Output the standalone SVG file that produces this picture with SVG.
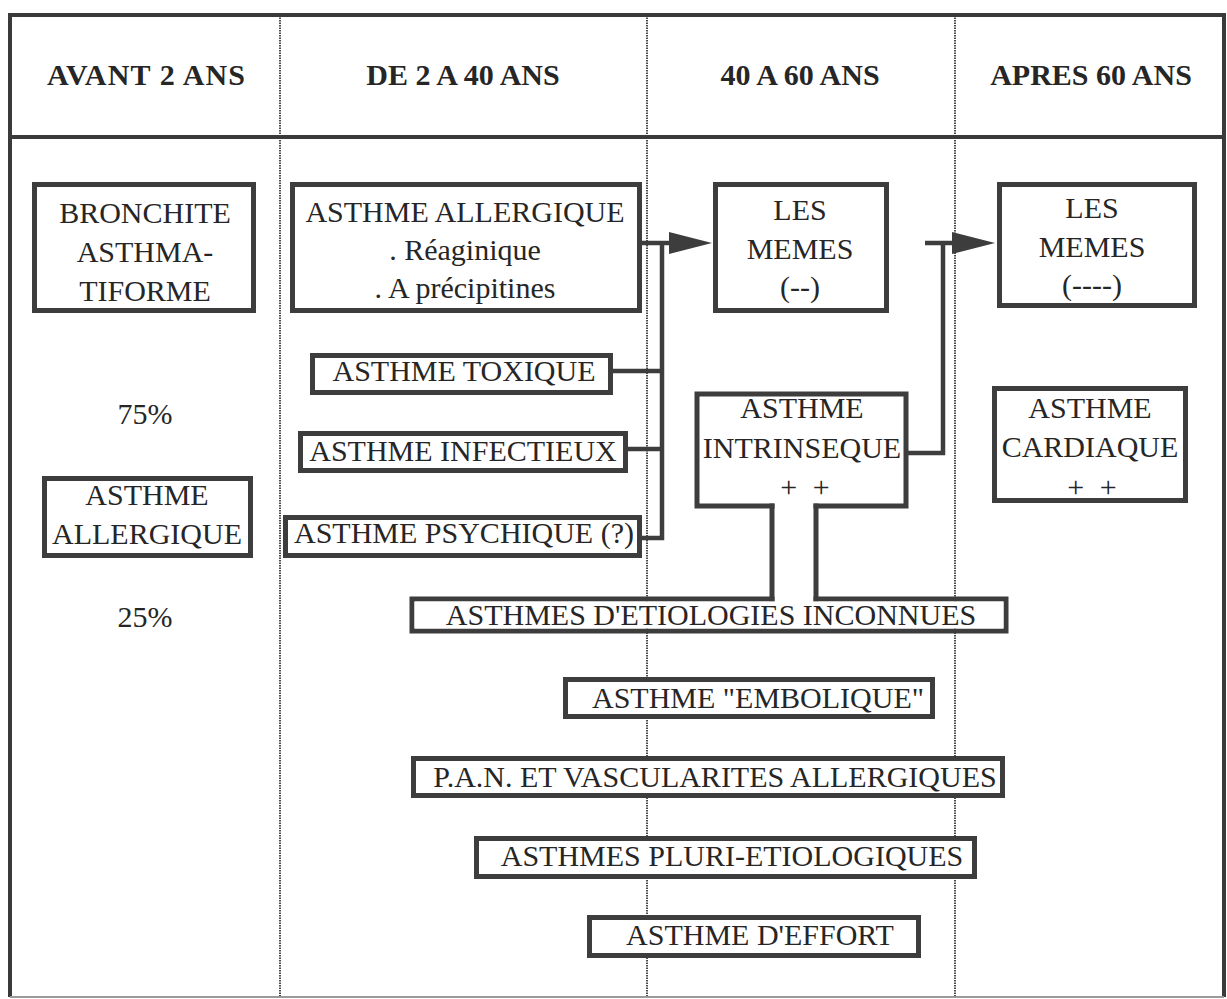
<svg xmlns="http://www.w3.org/2000/svg" width="1227" height="999" viewBox="0 0 1227 999">
  <style>
    .frame { fill: none; stroke: #3a3a3a; stroke-width: 4; }
    .divider { fill: none; stroke: #4a4a4a; stroke-width: 2; stroke-dasharray: 1.5 1; }
    .box { fill: #ffffff; stroke: #3d3d3d; stroke-width: 5; stroke-linejoin: miter; }
    .open { fill: none; stroke: #3d3d3d; stroke-width: 5; stroke-linecap: square; }
    .link { fill: none; stroke: #3d3d3d; stroke-width: 4.5; stroke-linejoin: miter; }
    .head { font-family: "Liberation Serif", "Times New Roman", serif; font-weight: bold; font-size: 30px; fill: #262626; text-anchor: middle; }
    .lbl { font-family: "Liberation Serif", "Times New Roman", serif; font-size: 30px; fill: #262626; text-anchor: middle; }
  </style>
  <defs>
    <marker id="arrow" viewBox="0 0 43 22" refX="0" refY="11" markerWidth="43" markerHeight="22" markerUnits="userSpaceOnUse" orient="auto">
      <path d="M0,0 L43,11 L0,22 Z" fill="#3d3d3d"/>
    </marker>
  </defs>

  <rect width="1227" height="999" fill="#ffffff"/>

  <!-- table frame and column dividers -->
  <g id="table">
    <line class="divider" x1="280" y1="15" x2="280" y2="997"/>
    <line class="divider" x1="647" y1="15" x2="647" y2="997"/>
    <line class="divider" x1="955" y1="15" x2="955" y2="997"/>
    <path class="frame" d="M10,997 V15 H1224 V997"/>
    <line x1="10" y1="997" x2="1224" y2="997" stroke="#9a9a9a" stroke-width="2"/>
    <line class="frame" x1="10" y1="137" x2="1224" y2="137"/>
    <text class="head" x="146" y="85" textLength="198">AVANT 2 ANS</text>
    <text class="head" x="463" y="85">DE 2 A 40 ANS</text>
    <text class="head" x="800" y="85">40 A 60 ANS</text>
    <text class="head" x="1091" y="85">APRES 60 ANS</text>
  </g>

  <!-- column 1 -->
  <g id="bronchite">
    <rect class="box" x="34.5" y="184.5" width="219" height="126"/>
    <text class="lbl" x="145" y="223">BRONCHITE</text>
    <text class="lbl" x="145" y="262">ASTHMA-</text>
    <text class="lbl" x="145" y="301">TIFORME</text>
  </g>
  <g id="pct75">
    <text class="lbl" x="145" y="424">75%</text>
  </g>
  <g id="asthme-allergique-enfant">
    <rect class="box" x="44.5" y="478.5" width="206" height="77"/>
    <text class="lbl" x="147" y="505">ASTHME</text>
    <text class="lbl" x="147" y="544">ALLERGIQUE</text>
  </g>
  <g id="pct25">
    <text class="lbl" x="145" y="627">25%</text>
  </g>

  <!-- connectors -->
  <g id="connectors">
    <path class="link" d="M642,243 H669" marker-end="url(#arrow)"/>
    <path class="link" d="M642,538 H662 V243"/>
    <path class="link" d="M613,371 H662"/>
    <path class="link" d="M628,449 H662"/>
    <path class="link" d="M908,453 H943 V243"/>
    <path class="link" d="M925,243 H952" marker-end="url(#arrow)"/>
    <path class="open" d="M772,506 V599"/>
    <path class="open" d="M816,506 V599"/>
  </g>

  <!-- column 2 -->
  <g id="asthme-allergique">
    <rect class="box" x="292.5" y="184.5" width="347" height="126"/>
    <text class="lbl" x="465" y="222">ASTHME ALLERGIQUE</text>
    <text class="lbl" x="465" y="260">. Réaginique</text>
    <text class="lbl" x="465" y="298">. A précipitines</text>
  </g>
  <g id="asthme-toxique">
    <rect class="box" x="312.5" y="355.5" width="298" height="37"/>
    <text class="lbl" x="464" y="381">ASTHME TOXIQUE</text>
  </g>
  <g id="asthme-infectieux">
    <rect class="box" x="300.5" y="433.5" width="325" height="37"/>
    <text class="lbl" x="463" y="461">ASTHME INFECTIEUX</text>
  </g>
  <g id="asthme-psychique">
    <rect class="box" x="285.5" y="517.5" width="354" height="38"/>
    <text class="lbl" x="464" y="543">ASTHME PSYCHIQUE (?)</text>
  </g>

  <!-- column 3 -->
  <g id="les-memes-1">
    <rect class="box" x="715.5" y="184.5" width="171" height="126"/>
    <text class="lbl" x="800" y="220">LES</text>
    <text class="lbl" x="800" y="259">MEMES</text>
    <text class="lbl" x="800" y="297">(--)</text>
  </g>
  <g id="asthme-intrinseque">
    <path class="open" d="M772,506 H697 V394 H906 V506 H816"/>
    <text class="lbl" x="802" y="418">ASTHME</text>
    <text class="lbl" x="802" y="458">INTRINSEQUE</text>
    <text class="lbl" x="805" y="497" word-spacing="8">+ +</text>
  </g>

  <!-- column 4 -->
  <g id="les-memes-2">
    <rect class="box" x="999.5" y="184.5" width="195" height="121"/>
    <text class="lbl" x="1092" y="218">LES</text>
    <text class="lbl" x="1092" y="257">MEMES</text>
    <text class="lbl" x="1092" y="295">(----)</text>
  </g>
  <g id="asthme-cardiaque">
    <rect class="box" x="994.5" y="388.5" width="191" height="112"/>
    <text class="lbl" x="1090" y="418">ASTHME</text>
    <text class="lbl" x="1090" y="457">CARDIAQUE</text>
    <text class="lbl" x="1092" y="497" word-spacing="8">+ +</text>
  </g>

  <!-- spanning rows -->
  <g id="etiologies-inconnues">
    <path class="open" d="M772,599 H412 V631 H1006 V599 H816"/>
    <rect x="414.5" y="601.5" width="589" height="27" fill="#ffffff"/>
    <text class="lbl" x="711" y="625">ASTHMES D'ETIOLOGIES INCONNUES</text>
  </g>
  <g id="asthme-embolique">
    <rect class="box" x="565.5" y="679.5" width="367" height="37"/>
    <text class="lbl" x="758" y="708">ASTHME "EMBOLIQUE"</text>
  </g>
  <g id="pan-vascularites">
    <rect class="box" x="413.5" y="758.5" width="589" height="37"/>
    <text class="lbl" x="715" y="787">P.A.N. ET VASCULARITES ALLERGIQUES</text>
  </g>
  <g id="asthmes-pluri">
    <rect class="box" x="476.5" y="838.5" width="498" height="38"/>
    <text class="lbl" x="732" y="866">ASTHMES PLURI-ETIOLOGIQUES</text>
  </g>
  <g id="asthme-effort">
    <rect class="box" x="589.5" y="917.5" width="329" height="38"/>
    <text class="lbl" x="760" y="945">ASTHME D'EFFORT</text>
  </g>
</svg>
